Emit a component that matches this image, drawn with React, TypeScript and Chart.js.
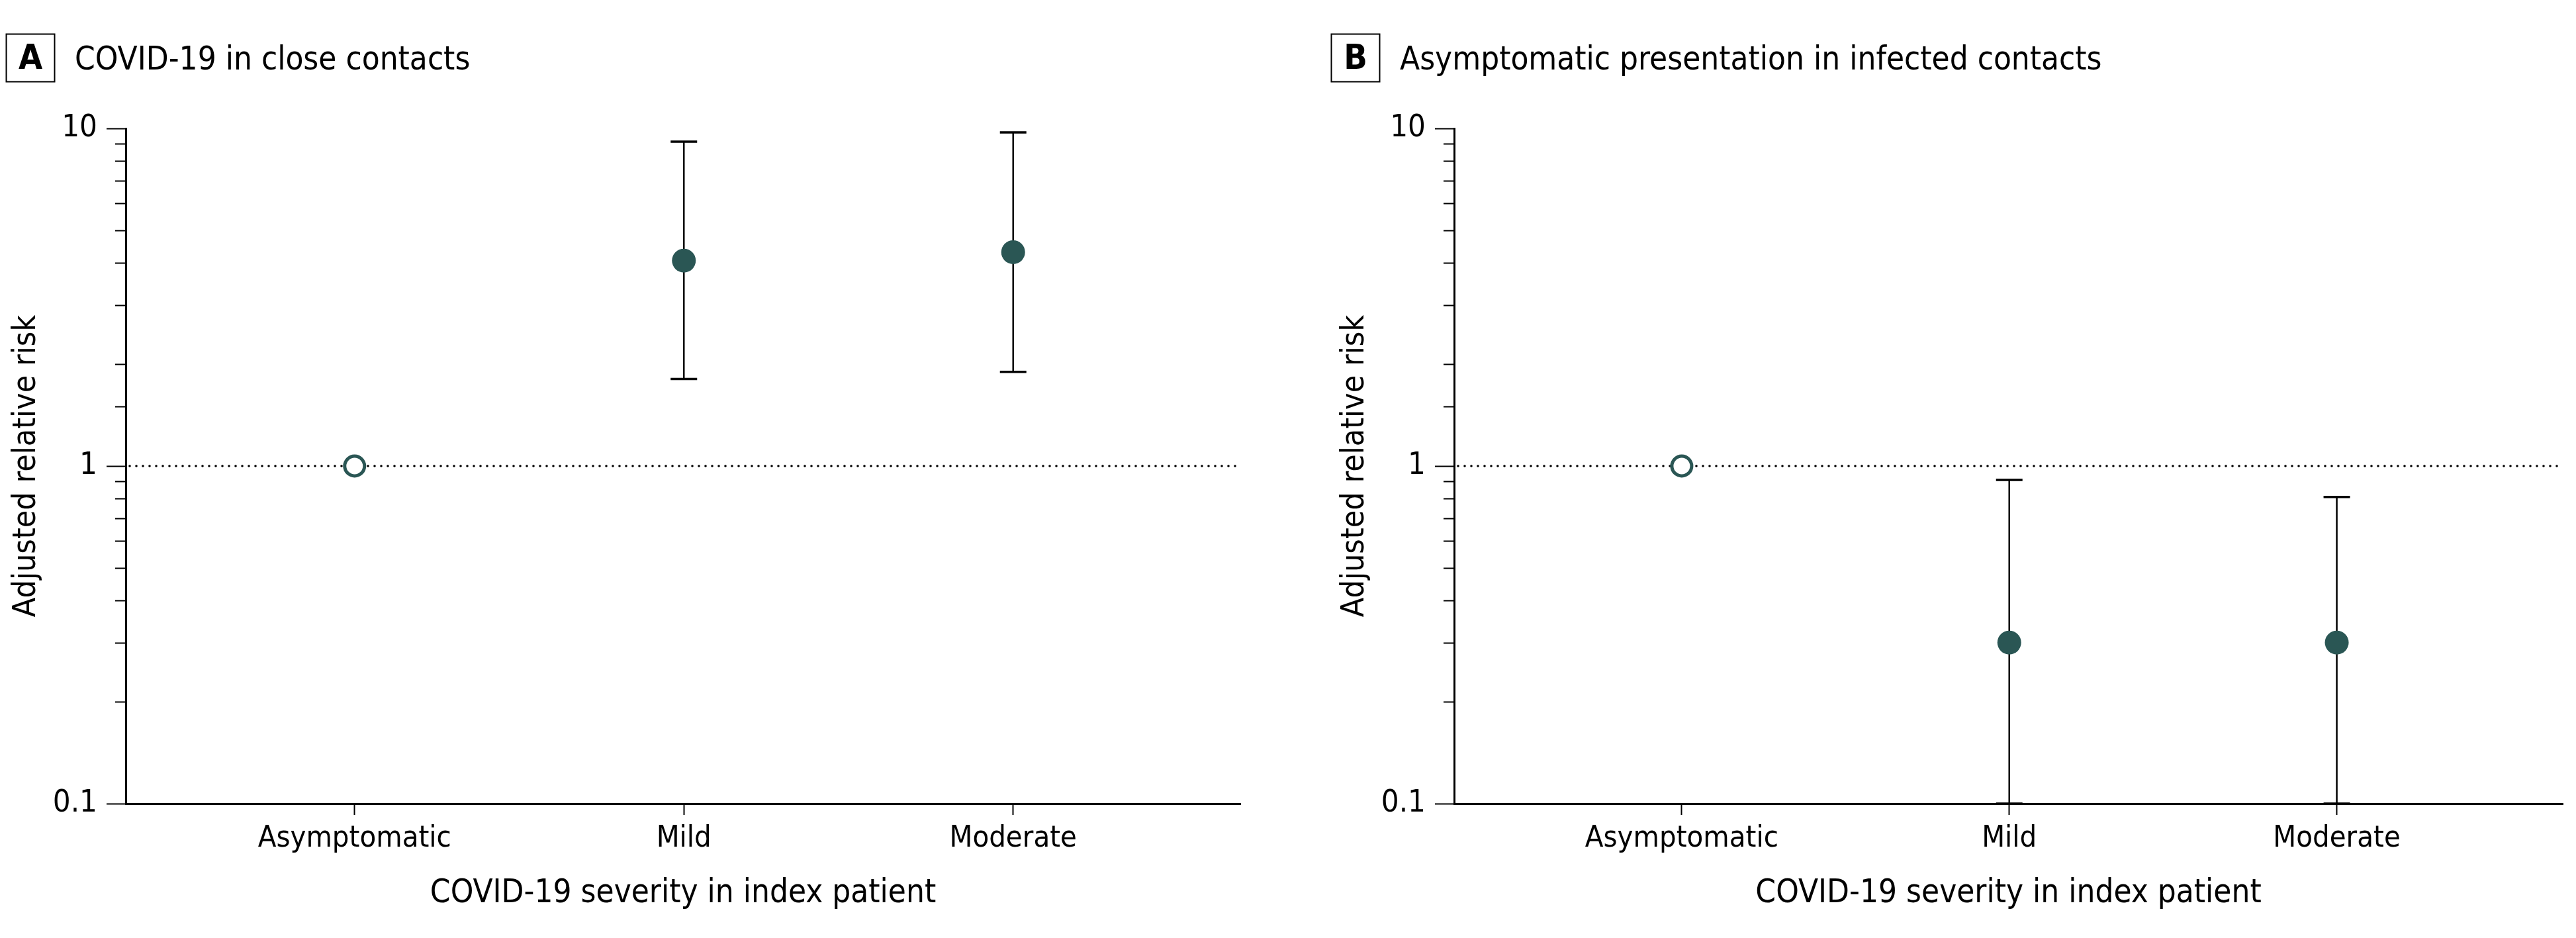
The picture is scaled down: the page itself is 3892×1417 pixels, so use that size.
import React, { useEffect, useRef } from 'react';
import { Chart, registerables } from 'chart.js';

Chart.register(...registerables);

if (typeof document !== 'undefined') {
  document.body.style.margin = '0';
}

// ---------- data ----------
const categories = ['Asymptomatic', 'Mild', 'Moderate'];
const yTickLabels = ['0.1', '1', '10'];
const xAxisTitle = 'COVID-19 severity in index patient';
const yAxisTitle = 'Adjusted relative risk';

const panelALetter = 'A';
const panelATitle = 'COVID-19 in close contacts';
const riskA = [1, 4.06, 4.3];
const lowerA: (number | null)[] = [null, 1.81, 1.9];
const upperA: (number | null)[] = [null, 9.14, 9.73];

const panelBLetter = 'B';
const panelBTitle = 'Asymptomatic presentation in infected contacts';
const riskB = [1, 0.3, 0.3];
const lowerB: (number | null)[] = [null, 0.1, 0.1];
const upperB: (number | null)[] = [null, 0.91, 0.81];

const referenceValue = 1;

// ---------- style ----------
const FONT = '"Liberation Sans Narrow", "DejaVu Sans Condensed", "Roboto Condensed", sans-serif';
const TEAL = '#2a5654';
const H = 1417;

const isMajor = (v: number) => {
  const l = Math.log10(v);
  return Math.abs(l - Math.round(l)) < 1e-6;
};

const forestPlugin = {
  id: 'forest',
  beforeDatasetsDraw(chart: any, _args: any, opts: any) {
    const { ctx, chartArea, scales } = chart;
    const x = scales.x;
    const y = scales.y;
    ctx.save();
    // minor ticks on y axis
    ctx.strokeStyle = '#000';
    ctx.lineWidth = 2;
    y.ticks.forEach((t: any) => {
      if (!isMajor(t.value)) {
        const py = Math.round(y.getPixelForValue(t.value)) + 0.5;
        ctx.beginPath();
        ctx.moveTo(chartArea.left - 16, py);
        ctx.lineTo(chartArea.left, py);
        ctx.stroke();
      }
    });
    // reference dotted line
    const yr = y.getPixelForValue(referenceValue);
    ctx.beginPath();
    ctx.lineWidth = 3.6;
    ctx.lineCap = 'round';
    ctx.setLineDash([0, 10]);
    ctx.moveTo(chartArea.left + 6, yr);
    ctx.lineTo(chartArea.right, yr);
    ctx.stroke();
    ctx.setLineDash([]);
    ctx.lineCap = 'butt';
    // error bars
    const lower = opts.lower as (number | null)[];
    const upper = opts.upper as (number | null)[];
    lower.forEach((lo, i) => {
      const hi = upper[i];
      if (lo == null || hi == null) return;
      const px = x.getPixelForValue(i + 1);
      const pl = y.getPixelForValue(lo);
      const ph = y.getPixelForValue(hi);
      ctx.strokeStyle = '#000';
      ctx.lineWidth = 2.5;
      ctx.beginPath();
      ctx.moveTo(px, pl);
      ctx.lineTo(px, ph);
      ctx.stroke();
      ctx.lineWidth = 3.5;
      ctx.beginPath();
      ctx.moveTo(px - 20, ph);
      ctx.lineTo(px + 20, ph);
      ctx.moveTo(px - 20, pl);
      ctx.lineTo(px + 20, pl);
      ctx.stroke();
    });
    ctx.restore();
  },
  afterDraw(chart: any, _args: any, opts: any) {
    const { ctx } = chart;
    ctx.save();
    ctx.strokeStyle = '#000';
    ctx.lineWidth = 2;
    ctx.strokeRect(opts.boxX + 0.5, 51.5, 73, 72);
    ctx.fillStyle = '#000';
    ctx.font = `bold 52px ${FONT}`;
    ctx.textAlign = 'center';
    ctx.textBaseline = 'alphabetic';
    ctx.fillText(opts.letter, opts.boxX + 37, 104);
    ctx.font = `49px ${FONT}`;
    ctx.textAlign = 'left';
    ctx.fillText(opts.title, opts.boxX + 104, 105);
    ctx.restore();
  },
};

type PanelProps = {
  left: number;
  width: number;
  rightPad: number;
  boxX: number;
  letter: string;
  title: string;
  values: number[];
  lower: (number | null)[];
  upper: (number | null)[];
};

function Panel(props: PanelProps) {
  const ref = useRef<HTMLCanvasElement>(null);
  useEffect(() => {
    const canvas = ref.current;
    if (!canvas) return;
    const chart = new Chart(canvas, {
      type: 'scatter',
      data: {
        datasets: [
          {
            data: props.values.map((v, i) => ({ x: i + 1, y: v })),
            pointRadius: props.values.map((_, i) => (i === 0 ? 15 : 18)),
            pointBackgroundColor: props.values.map((_, i) => (i === 0 ? '#ffffff' : TEAL)),
            pointBorderColor: TEAL,
            pointBorderWidth: props.values.map((_, i) => (i === 0 ? 5 : 0)),
            showLine: false,
          } as any,
        ],
      },
      options: {
        animation: false,
        responsive: false,
        maintainAspectRatio: false,
        events: [],
        layout: { padding: { left: 0, right: props.rightPad, top: 194, bottom: 0 } },
        plugins: {
          legend: { display: false },
          tooltip: { enabled: false },
          forest: { lower: props.lower, upper: props.upper, letter: props.letter, title: props.title, boxX: props.boxX },
        } as any,
        scales: {
          x: {
            type: 'linear',
            min: 0.305,
            max: 3.69,
            afterBuildTicks: (s: any) => {
              s.ticks = categories.map((_, i) => ({ value: i + 1 }));
            },
            afterFit: (s: any) => {
              s.height = H - 1214;
            },
            border: { display: true, color: '#000', width: 3 },
            grid: { drawOnChartArea: false, drawTicks: true, tickLength: 17, tickColor: '#000', tickWidth: 2 },
            ticks: {
              autoSkip: false,
              maxRotation: 0,
              padding: 9,
              color: '#000',
              font: { family: FONT, size: 45 },
              callback: (v: any) => categories[Math.round(Number(v)) - 1] ?? '',
            },
            title: {
              display: true,
              text: xAxisTitle,
              color: '#000',
              font: { family: FONT, size: 49 },
              padding: { top: 0, bottom: 37 },
            },
          },
          y: {
            type: 'logarithmic',
            min: 0.1,
            max: 10,
            afterFit: (s: any) => {
              s.width = 190;
            },
            border: { display: true, color: '#000', width: 3 },
            grid: {
              drawOnChartArea: false,
              drawTicks: true,
              tickLength: 29,
              tickWidth: 2,
              tickColor: (c: any) => (c.tick && isMajor(c.tick.value) ? '#000' : 'rgba(0,0,0,0)'),
            },
            ticks: {
              autoSkip: false,
              padding: 14,
              color: '#000',
              font: { family: FONT, size: 47 },
              callback: (v: any) => yTickLabels.find((l) => Math.abs(Number(l) - Number(v)) < 1e-9) ?? '',
            },
            title: {
              display: true,
              text: yAxisTitle,
              color: '#000',
              font: { family: FONT, size: 48 },
              padding: { top: 12, bottom: 0 },
            },
          },
        },
      } as any,
      plugins: [forestPlugin as any],
    });
    return () => chart.destroy();
  }, []);
  return (
    <canvas
      ref={ref}
      width={props.width}
      height={H}
      style={{ position: 'absolute', left: props.left, top: 0, width: props.width, height: H, display: 'block' }}
    />
  );
}

export default function App() {
  return (
    <div style={{ position: 'relative', width: 3892, height: H, background: '#fff', overflow: 'hidden' }}>
      <Panel
        left={0}
        width={2007}
        rightPad={2007 - 1874}
        boxX={9}
        letter={panelALetter}
        title={panelATitle}
        values={riskA}
        lower={lowerA}
        upper={upperA}
      />
      <Panel
        left={2007}
        width={3892 - 2007}
        rightPad={3892 - 3880}
        boxX={4}
        letter={panelBLetter}
        title={panelBTitle}
        values={riskB}
        lower={lowerB}
        upper={upperB}
      />
    </div>
  );
}
